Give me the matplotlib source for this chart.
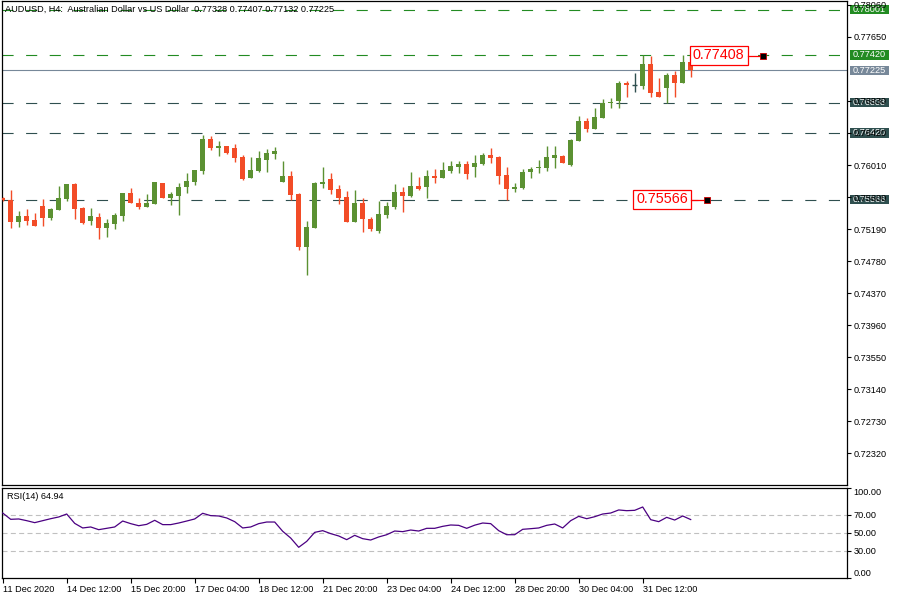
import matplotlib
matplotlib.use('Agg')
import matplotlib.pyplot as plt
from matplotlib.patches import Rectangle
import matplotlib.transforms as mtrans

plt.rcParams['font.family'] = ['Liberation Sans', 'DejaVu Sans']
plt.rcParams['lines.scale_dashes'] = False

# ---------------- data ----------------
opens = [0.75587, 0.75562, 0.75284, 0.75357, 0.75305, 0.75485, 0.75335, 0.75438, 0.75575, 0.75766,
         0.75459, 0.75297, 0.75344, 0.75207, 0.75259, 0.75361, 0.75651, 0.75523, 0.75472, 0.75515,
         0.75779, 0.75592, 0.75617, 0.75728, 0.75792, 0.75933, 0.76343, 0.76232, 0.76253, 0.76228,
         0.76113, 0.75844, 0.75933, 0.76078, 0.76155, 0.75792, 0.75869, 0.75638, 0.74964, 0.75207,
         0.75771, 0.75831, 0.75703, 0.75600, 0.75284, 0.75523, 0.75314, 0.75169, 0.75370, 0.75476,
         0.75664, 0.75617, 0.75741, 0.75732, 0.75869, 0.75848, 0.75937, 0.75989, 0.76023, 0.75989,
         0.76023, 0.76134, 0.76117, 0.75882, 0.75707, 0.75720, 0.75916, 0.75967, 0.75976, 0.76104,
         0.76125, 0.76010, 0.76322, 0.76574, 0.76471, 0.76616, 0.76800, 0.76830, 0.77061, 0.77035,
         0.77026, 0.77304, 0.76945, 0.77001, 0.77163, 0.77056, 0.77328]
highs = [0.75595, 0.75690, 0.75425, 0.75442, 0.75391, 0.75570, 0.75463, 0.75741, 0.75766, 0.75784,
         0.75468, 0.75463, 0.75391, 0.75323, 0.75395, 0.75651, 0.75715, 0.75587, 0.75638, 0.75792,
         0.75779, 0.75664, 0.75779, 0.75908, 0.75946, 0.76395, 0.76382, 0.76317, 0.76253, 0.76279,
         0.76138, 0.76113, 0.76190, 0.76215, 0.76240, 0.76061, 0.75933, 0.75651, 0.75292, 0.75792,
         0.75985, 0.75908, 0.75754, 0.75677, 0.75690, 0.75587, 0.75344, 0.75553, 0.75536, 0.75767,
         0.75732, 0.75920, 0.75861, 0.75946, 0.75959, 0.76053, 0.76066, 0.76061, 0.76066, 0.76138,
         0.76160, 0.76232, 0.76125, 0.75989, 0.75775, 0.75959, 0.75989, 0.76074, 0.76253, 0.76253,
         0.76134, 0.76347, 0.76638, 0.76616, 0.76736, 0.76851, 0.76864, 0.77082, 0.77082, 0.77184,
         0.77420, 0.77411, 0.77125, 0.77184, 0.77214, 0.77420, 0.77407]
lows = [0.75550, 0.75199, 0.75220, 0.75241, 0.75233, 0.75229, 0.75305, 0.75438, 0.75553, 0.75318,
        0.75259, 0.75241, 0.75066, 0.75092, 0.75194, 0.75297, 0.75528, 0.75451, 0.75468, 0.75506,
        0.75592, 0.75502, 0.75374, 0.75656, 0.75758, 0.75895, 0.76207, 0.76130, 0.76155, 0.76053,
        0.75822, 0.75844, 0.75920, 0.75925, 0.76091, 0.75792, 0.75562, 0.74921, 0.74605, 0.75207,
        0.75720, 0.75643, 0.75515, 0.75284, 0.75284, 0.75156, 0.75169, 0.75135, 0.75335, 0.75451,
        0.75412, 0.75596, 0.75690, 0.75592, 0.75784, 0.75848, 0.75903, 0.75912, 0.75835, 0.75861,
        0.76014, 0.76040, 0.75767, 0.75566, 0.75660, 0.75703, 0.75839, 0.75912, 0.75933, 0.75976,
        0.76031, 0.76002, 0.76322, 0.76437, 0.76471, 0.76616, 0.76736, 0.76745, 0.76877, 0.76945,
        0.76984, 0.76885, 0.76885, 0.76808, 0.76885, 0.77056, 0.77132]
closes = [0.75558, 0.75284, 0.75357, 0.75297, 0.75233, 0.75335, 0.75451, 0.75587, 0.75766, 0.75451,
          0.75271, 0.75357, 0.75207, 0.75267, 0.75369, 0.75651, 0.75528, 0.75476, 0.75523, 0.75792,
          0.75592, 0.75638, 0.75728, 0.75805, 0.75946, 0.76343, 0.76232, 0.76253, 0.76164, 0.76104,
          0.75831, 0.75946, 0.76100, 0.76164, 0.76190, 0.75869, 0.75626, 0.74964, 0.75216, 0.75779,
          0.75792, 0.75694, 0.75592, 0.75284, 0.75523, 0.75314, 0.75190, 0.75382, 0.75485, 0.75664,
          0.75617, 0.75741, 0.75698, 0.75869, 0.75848, 0.75946, 0.75997, 0.76023, 0.75899, 0.76036,
          0.76142, 0.76104, 0.75873, 0.75703, 0.75732, 0.75920, 0.75959, 0.75989, 0.76113, 0.76138,
          0.76040, 0.76330, 0.76574, 0.76476, 0.76625, 0.76804, 0.76821, 0.77065, 0.77031, 0.77035,
          0.77304, 0.76937, 0.76885, 0.77163, 0.77065, 0.77328, 0.77225]
rsi = [72.2, 65.2, 65.6, 63.7, 61.5, 63.7, 65.9, 67.8, 71.1, 60.7,
       55.6, 56.7, 53.7, 55.2, 56.7, 63.3, 60.4, 58.1, 59.6, 64.1,
       59.3, 59.3, 61.1, 63.3, 65.6, 71.9, 69.3, 68.9, 66.7, 62.6,
       55.6, 56.7, 60.4, 62.2, 62.2, 51.9, 44.4, 34.1, 40.7, 50.7,
       52.6, 49.3, 46.7, 42.6, 47.4, 43.7, 42.2, 45.6, 48.1, 52.2,
       51.5, 53.3, 52.2, 55.2, 55.2, 57.4, 58.9, 58.5, 55.2, 58.7,
       61.1, 60.4, 52.6, 48.1, 48.1, 54.1, 54.8, 55.6, 58.5, 60.0,
       55.6, 63.7, 68.5, 65.9, 68.1, 71.1, 72.2, 75.6, 74.8, 75.2,
       78.9, 64.8, 62.6, 67.4, 64.4, 68.9, 64.94]
x_labels = ["11 Dec 2020", "14 Dec 12:00", "15 Dec 20:00", "17 Dec 04:00", "18 Dec 12:00",
            "21 Dec 20:00", "23 Dec 04:00", "24 Dec 12:00", "28 Dec 20:00", "30 Dec 04:00",
            "31 Dec 12:00"]
x_label_idx = [0, 8, 16, 24, 32, 40, 48, 56, 64, 72, 80]
price_ticks = [0.78060, 0.77650, 0.76830, 0.76420, 0.76010, 0.75600, 0.75190, 0.74780,
               0.74370, 0.73960, 0.73550, 0.73140, 0.72730, 0.72320]
green_levels = [0.78001, 0.77420]
dark_levels = [0.76808, 0.76420, 0.75566]
bid = 0.77225
red_labels = [0.77408, 0.75566]
rsi_levels = [70, 50, 30]
rsi_ticks = [0, 30, 50, 70, 100]
title = "AUDUSD, H4:  Australian Dollar vs US Dollar  0.77328 0.77407 0.77132 0.77225"
rsi_title = "RSI(14) %.2f" % rsi[-1]

# ---------------- style ----------------
UP, DN, DOJI = '#5b9132', '#f24c27', '#2f4f4f'
GREEN, DARK, GRAY = '#228b22', '#2f4f4f', '#778899'
FS = 6.6
W, H = 900, 600
YMIN, YMAX = 0.7191006, 0.7811122
XMIN, XMAX = -0.0875, 105.5375

fig = plt.figure(figsize=(9, 6), dpi=100)


def px_rect(x0, y0, x1, y1):
    return [x0 / W, 1 - y1 / H, (x1 - x0) / W, (y1 - y0) / H]


ax = fig.add_axes(px_rect(2, 1, 847, 485))
rax = fig.add_axes(px_rect(2, 488, 847, 578))
dpp = (YMAX - YMIN) / 484.0  # price per pixel
xpp = (XMAX - XMIN) / 845.0  # index per pixel

for a in (ax, rax):
    a.set_xlim(XMIN, XMAX)
    for s in a.spines.values():
        s.set_linewidth(0.9)
        s.set_color('black')
ax.set_ylim(YMIN, YMAX)
rax.set_ylim(0, 100)

# candles
n = len(opens)
xs = list(range(n))
cols = [UP if c > o else (DN if c < o else DOJI) for o, c in zip(opens, closes)]
ax.vlines(xs, lows, highs, colors=cols, lw=1.0, zorder=3)
heights = [abs(c - o) for o, c in zip(opens, closes)]
bottoms = [min(o, c) for o, c in zip(opens, closes)]
ax.bar(xs, heights, bottom=bottoms, width=0.62, color=cols, lw=0, zorder=3)
for i in range(n):
    if opens[i] == closes[i]:
        ax.hlines(opens[i], i - 0.34, i + 0.34, colors=DOJI, lw=1.0, zorder=3)

# horizontal levels
dash = (0, (8, 9))
for v in green_levels:
    ax.axhline(v, color=GREEN, lw=0.8, ls=dash, zorder=2)
for v in dark_levels:
    ax.axhline(v, color=DARK, lw=0.8, ls=dash, zorder=2)
ax.axhline(bid, color=GRAY, lw=0.8, zorder=2)

# right price axis
ax.yaxis.tick_right()
ax.set_yticks(price_ticks)
ax.set_yticklabels(['%.5f' % v for v in price_ticks])
ax.tick_params(axis='y', length=3, width=0.8, pad=1.5, labelsize=FS, colors='black')
ax.set_xticks([])

bt = mtrans.blended_transform_factory(ax.transAxes, ax.transData)
boxes = [(v, GREEN) for v in green_levels] + [(bid, GRAY)] + [(v, DARK) for v in dark_levels]
for v, col in boxes:
    ax.add_patch(Rectangle((1 + 3.0 / 845, v - 4.6 * dpp), 39.0 / 845, 9.2 * dpp,
                           transform=bt, facecolor=col, edgecolor='none',
                           clip_on=False, zorder=1.0))
    ax.text(1 + 6.0 / 845, v, '%.5f' % v, transform=bt, color='white', fontsize=FS,
            ha='left', va='center', clip_on=False, zorder=1.2)

# red price labels
last = n - 1
lab_specs = [
    (red_labels[0], last - 0.15, 'left', last + 9.0),
    (red_labels[1], last + 0.05, 'right', last + 2.0),
]
for v, anchor, side, sq_x in lab_specs:
    bw = 58 * xpp
    bh = 19 * dpp
    x0 = anchor if side == 'left' else anchor - bw
    ax.add_patch(Rectangle((x0, v - bh / 2 + 0.5 * dpp), bw, bh, facecolor='white',
                           edgecolor='#ff0000', lw=0.9, zorder=5))
    ax.text(x0 + bw / 2, v + 0.6 * dpp, '%.5f' % v, color='#ff0000', fontsize=10.4,
            ha='center', va='center', zorder=6)
    ax.plot([x0 + bw, sq_x], [v, v], color='#ff0000', lw=0.9, zorder=5)
    ax.plot([sq_x], [v], marker='s', ms=4.2, mfc='black', mec='#cc0000', mew=0.6, zorder=6)

# title
fig.text(5 / W, 1 - 9 / H, title, fontsize=FS, ha='left', va='center', color='black')

# RSI panel
for lv in rsi_levels:
    rax.axhline(lv, color='#c0c0c0', lw=0.8, ls=(0, (3.6, 2.4)), zorder=1)
rax.plot(xs, rsi, color='#4b0082', lw=0.9, zorder=3)
rax.text(5 / 845, 1 - 8.5 / 90, rsi_title, transform=rax.transAxes, fontsize=FS,
         ha='left', va='center')
rax.yaxis.tick_right()
rax.set_yticks(rsi_ticks)
rax.set_yticklabels(['%.2f' % v for v in rsi_ticks])
rax.tick_params(axis='y', length=3, width=0.8, pad=1.5, labelsize=FS, colors='black')
yt = rax.yaxis.get_major_ticks()
yt[0].label2.set_va('bottom')
yt[-1].label2.set_va('top')

rax.set_xticks(x_label_idx)
rax.set_xticklabels(x_labels, ha='left')
rax.tick_params(axis='x', length=3.5, width=0.8, pad=1.5, labelsize=FS, colors='black')

fig.savefig('out.png', dpi=100, facecolor='white')
